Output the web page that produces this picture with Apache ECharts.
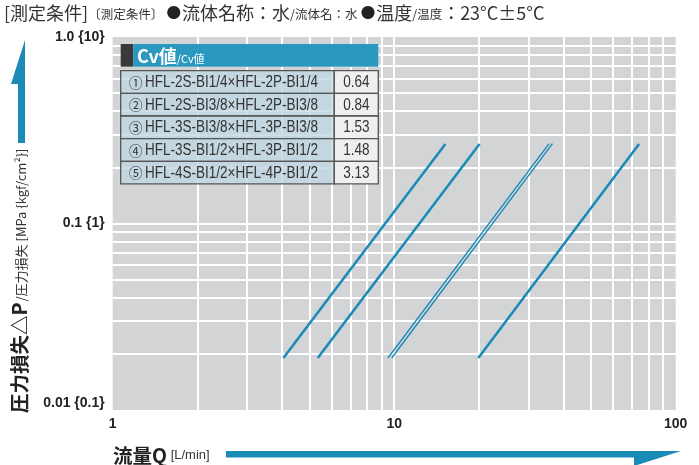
<!DOCTYPE html>
<html>
<head>
<meta charset="utf-8">
<script src="https://cdn.jsdelivr.net/npm/echarts@6/dist/echarts.min.js"></script>
<style>
html,body{margin:0;padding:0;background:#fff}
#main{width:699px;height:465px}
</style>
</head>
<body>
<div id="main"></div>
<script>
// 凡例・Cv値
var seriesNames = ['①', '②', '③', '④', '⑤'];
var models = [
    'HFL-2S-BI1/4×HFL-2P-BI1/4',
    'HFL-2S-BI3/8×HFL-2P-BI3/8',
    'HFL-3S-BI3/8×HFL-3P-BI3/8',
    'HFL-3S-BI1/2×HFL-3P-BI1/2',
    'HFL-4S-BI1/2×HFL-4P-BI1/2'
];
var cvValues = ['0.64', '0.84', '1.53', '1.48', '3.13'];
// 流量 [L/min] と 圧力損失 [MPa] (両端)
var flowLow  = [4.04, 5.35, 9.8, 9.5, 19.9];
var flowHigh = [15.2, 20.1, 36.5, 35.5, 74.1];
var dpLow  = [0.019, 0.019, 0.019, 0.019, 0.019];
var dpHigh = [0.267, 0.267, 0.268, 0.268, 0.267];
// 目盛
var xTickLabels = {'0': '1', '1': '10', '2': '100'};
var yTickLabels = {'-2': '0.01 {0.1}', '-1': '0.1 {1}', '0': '1.0 {10}'};
var xGridVals = [2, 3, 4, 5, 6, 7, 8, 9, 10, 20, 30, 40, 50, 60, 70, 80, 90];
var yGridVals = [0.02, 0.03, 0.04, 0.05, 0.06, 0.07, 0.08, 0.09, 0.1,
                 0.2, 0.3, 0.4, 0.5, 0.6, 0.7, 0.8, 0.9];

var blue = '#1a8ab7';
var latin = "'Liberation Sans', Arial, sans-serif";
var cjk = "'Noto Sans CJK JP', 'Noto Sans', sans-serif";

var lineWidths = [2.5, 2.5, 1.35, 1.35, 2.5];
var labelDx = [6, 7, 12, -8, 4];

// 文字幅を測る
var measureCtx = document.createElement('canvas').getContext('2d');
function textWidth(str, font) {
    measureCtx.font = font;
    return measureCtx.measureText(str).width;
}

var myChart = echarts.init(document.getElementById('main'));

var series = [];
// グリッド線
var gridLines = [];
xGridVals.forEach(function (v) { gridLines.push({xAxis: v}); });
yGridVals.forEach(function (v) { gridLines.push({yAxis: v}); });
series.push({
    type: 'line',
    data: [],
    z: 1,
    silent: true,
    markLine: {
        z: 1,
        silent: true,
        symbol: 'none',
        label: {show: false},
        lineStyle: {color: '#ffffff', width: 2, type: 'solid'},
        animation: false,
        data: gridLines
    }
});

for (var i = 0; i < seriesNames.length; i++) {
    series.push({
        name: seriesNames[i],
        type: 'line',
        z: 3,
        symbol: 'none',
        lineStyle: {color: blue, width: lineWidths[i]},
        data: [
            [flowLow[i], dpLow[i]],
            {
                value: [flowHigh[i], dpHigh[i]],
                label: {
                    show: true,
                    position: 'top',
                    distance: 5,
                    offset: [labelDx[i], -2],
                    formatter: seriesNames[i],
                    color: '#333',
                    fontSize: 17,
                    fontFamily: cjk
                }
            }
        ]
    });
}

// Cv値 表
var tblLeft = 120.7, tblRight = 378.3, colSplit = 334.3, rowTop = 70.7, rowH = 22.65;
var graphics = [
    {type: 'rect', shape: {x: tblLeft, y: 44, width: 12.6, height: 22.7}, style: {fill: '#3a3a3c'}, z: 10},
    {type: 'rect', shape: {x: 133.3, y: 44, width: tblRight - 133.3, height: 22.7}, style: {fill: '#2a98bf'}, z: 10},
    {type: 'text', x: 137, y: 56, z: 11, style: {
        text: '{a|Cv値}{b|/Cv値}', textVerticalAlign: 'middle', fill: '#fff',
        rich: {
            a: {fontSize: 18, fontWeight: 'bold', fontFamily: cjk, fill: '#fff', verticalAlign: 'bottom'},
            b: {fontSize: 11, fontFamily: cjk, fill: '#fff', verticalAlign: 'bottom', padding: [0, 0, 1, 0]}
        }
    }}
];
var modelFont = '16px ' + latin;
var valFont = '16.5px ' + latin;
for (var r = 0; r < models.length; r++) {
    var y0 = rowTop + r * rowH;
    var ym = y0 + rowH / 2 + 0.5;
    graphics.push({type: 'rect', z: 10,
        shape: {x: tblLeft, y: y0, width: colSplit - tblLeft, height: rowH},
        style: {fill: 'rgba(192,214,226,0.78)', stroke: '#555', lineWidth: 1.3}});
    graphics.push({type: 'rect', z: 10,
        shape: {x: colSplit, y: y0, width: tblRight - colSplit, height: rowH},
        style: {fill: '#efefef', stroke: '#555', lineWidth: 1.3}});
    graphics.push({type: 'text', z: 11, x: 129, y: ym,
        style: {text: seriesNames[r], fontSize: 13.5, fontFamily: cjk, fill: '#333', textVerticalAlign: 'middle'}});
    graphics.push({type: 'text', z: 11, x: 145, y: ym,
        scaleX: 173 / textWidth(models[r], modelFont),
        style: {text: models[r], font: modelFont, fill: '#333', textVerticalAlign: 'middle'}});
    graphics.push({type: 'text', z: 11, x: (colSplit + tblRight) / 2, y: ym,
        scaleX: 0.82,
        style: {text: cvValues[r], font: valFont, fill: '#333', textAlign: 'center', textVerticalAlign: 'middle'}});
}

// 見出し
graphics.push({type: 'text', x: 4, y: 13, style: {
    text: '{a|[測定条件]}{b|〔測定条件〕} {c|●}{a|流体名称：水}{b|/流体名：水} {c|●}{a|温度}{b|/温度}{a|：23°C±5°C}',
    textVerticalAlign: 'middle',
    rich: {
        a: {fontSize: 18, fontFamily: cjk, fill: '#333', verticalAlign: 'bottom'},
        b: {fontSize: 12.5, fontFamily: cjk, fill: '#333', verticalAlign: 'bottom', padding: [0, 0, 1, 0]},
        c: {fontSize: 14.5, fontFamily: cjk, fill: '#222', verticalAlign: 'bottom', padding: [0, 1, 2, 0]}
    }
}});

// 縦軸タイトルと矢印
var yTitleBig = '圧力損失△P';
var yTitleBigFont = 'bold 19.5px ' + cjk;
var yTitleSmall = '/圧力損失 [MPa {kgf/cm²}]';
graphics.push({type: 'polygon', shape: {points: [[25, 40], [11, 84], [18, 84], [18, 143], [25, 143]]}, style: {fill: blue}});
graphics.push({type: 'text', x: 29, y: 413, rotation: Math.PI / 2, style: {
    text: yTitleBig, font: yTitleBigFont, fill: '#222',
    textAlign: 'left', textVerticalAlign: 'bottom'
}});
graphics.push({type: 'text', x: 28, y: 413 - textWidth(yTitleBig, yTitleBigFont) - 1, rotation: Math.PI / 2, style: {
    text: yTitleSmall, font: '13px ' + cjk, fill: '#333',
    textAlign: 'left', textVerticalAlign: 'bottom'
}});

// 横軸タイトルと矢印
graphics.push({type: 'text', x: 113, y: 465, style: {
    text: '{a|流量Q}{b| [L/min]}',
    textAlign: 'left', textVerticalAlign: 'bottom',
    rich: {
        a: {fontSize: 19.5, fontWeight: 'bold', fontFamily: cjk, fill: '#222', verticalAlign: 'bottom'},
        b: {fontSize: 13, fontFamily: latin, fill: '#333', verticalAlign: 'bottom', padding: [0, 0, 3, 0]}
    }
}});
graphics.push({type: 'polygon', shape: {points: [[226, 451], [681, 451], [634, 466], [634, 457.5], [226, 457.5]]}, style: {fill: blue}});

var option = {
    animation: false,
    grid: {
        left: 112.7, right: 23.3, top: 37, bottom: 55,
        show: true, backgroundColor: '#d3d4d6', borderWidth: 0
    },
    xAxis: {
        type: 'log', logBase: 10, min: 1, max: 100,
        axisLine: {show: false}, axisTick: {show: false}, splitLine: {show: false},
        axisLabel: {
            margin: 7, fontSize: 14, fontWeight: 'bold', fontFamily: latin, color: '#222',
            formatter: function (v) { return xTickLabels[String(Math.round(Math.log10(v)))] || ''; }
        }
    },
    yAxis: {
        type: 'log', logBase: 10, min: 0.01, max: 1,
        axisLine: {show: false}, axisTick: {show: false}, splitLine: {show: false},
        axisLabel: {
            margin: 8, fontSize: 14, fontWeight: 'bold', fontFamily: latin, color: '#222',
            verticalAlignMinLabel: 'bottom',
            formatter: function (v) { return yTickLabels[String(Math.round(Math.log10(v)))] || ''; }
        }
    },
    graphic: graphics,
    series: series
};
myChart.setOption(option);
</script>
</body>
</html>
